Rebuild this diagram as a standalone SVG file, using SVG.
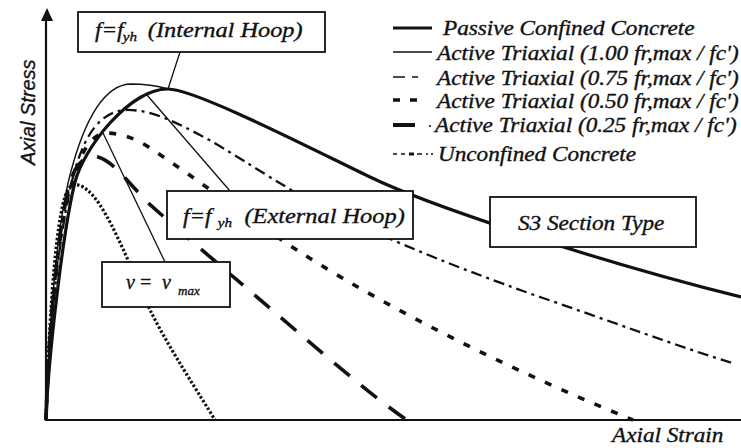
<svg xmlns="http://www.w3.org/2000/svg" width="741" height="448" viewBox="0 0 741 448">
<style>
.t{font-family:"Liberation Serif","Times New Roman",serif;font-style:italic;font-size:20px;fill:#111;stroke:#111;stroke-width:0.35}
.box{fill:#fff;stroke:#111;stroke-width:1.8}
.ld{fill:none;stroke:#111;stroke-width:1.3}
.c{fill:none;stroke:#111;stroke-linecap:butt;stroke-linejoin:round}
.pas{stroke-width:3.2}
.a100{stroke-width:1.4}
.a75{stroke-width:2.3;stroke-dasharray:11 5 3 5}
.a50{stroke-width:3.6;stroke-dasharray:7 11}
.a25{stroke-width:3.6;stroke-dasharray:20 15}
.unc{stroke-width:3.2;stroke-dasharray:2.5 2}
.ax{stroke:#111;stroke-width:2.2;fill:none}
</style>
<rect width="741" height="448" fill="#fff"/>

<g id="axes">
<line class="ax" x1="46" y1="420" x2="46" y2="16"/>
<polygon points="47,8 41,21 53,21" fill="#111"/>
<line class="ax" x1="45" y1="420" x2="741" y2="420"/>
<text class="t" style="font-family:'Liberation Sans',Arial,sans-serif" transform="translate(35,165) rotate(-90)">Axial Stress</text>
<text class="t" transform="translate(612,442) scale(1.16,1)">Axial Strain</text>
</g>

<g id="curves">
<path class="c unc" d="M46,420 C49,320 56,200 70,187 C78,180 90,190 100,205 C115,228 130,265 150,310 C170,350 200,395 215,420"/>
<path class="c a25" d="M46,420 C49,320 60,200 75,170 C82,158 90,155 98,157 C112,161 125,178 145,200 C180,232 255,295 300,334 C340,368 380,402 407,420"/>
<path class="c a50" d="M46,420 C48,340 57,235 70,190 C78,160 88,135 105,133 C120,133 135,138 150,148 C200,181 250,220 300,252 C400,316 525,376 633,420"/>
<path class="c a75" d="M46,420 C49,330 60,220 75,170 C85,135 100,112 125,110 C150,109 175,122 200,135 C225,148 260,172 300,195 C360,228 440,262 540,297 C610,321 680,347 732,363"/>
<path class="c a100" d="M46,420 C48,340 56,230 70,175 C77,148 95,86 130,84 C145,84 158,86 168,89"/>
<path class="c pas" d="M46,420 C48,360 63,230 75,182 C83,150 128,89 168,89 C195,89 310,148 370,177 C430,206 600,262 741,297"/>
</g>

<g id="legend">
<line class="c" stroke-width="3" x1="393" y1="28" x2="432" y2="28"/>
<text class="t" transform="translate(443,35) scale(1.16,1)">Passive Confined Concrete</text>
<line class="c" stroke-width="1.5" x1="393" y1="52" x2="432" y2="52"/>
<text class="t" transform="translate(437,60) scale(1.16,1)">Active Triaxial (1.00 fr,max / fc')</text>
<path class="c" stroke-width="1.6" d="M393,77 H405 M412,77 H418"/>
<text class="t" transform="translate(437,85) scale(1.16,1)">Active Triaxial (0.75 fr,max / fc')</text>
<path class="c" stroke-width="3.6" d="M393,100 H400 M410,100 H417"/>
<text class="t" transform="translate(437,108) scale(1.16,1)">Active Triaxial (0.50 fr,max / fc')</text>
<path class="c" stroke-width="4" d="M393,125 H415"/>
<circle cx="430" cy="126" r="1.1" fill="#111"/>
<text class="t" transform="translate(435,132) scale(1.16,1)">Active Triaxial (0.25 fr,max / fc')</text>
<path class="c" stroke-width="1.3" d="M393,154 H397 M401,154 H405 M417,154 H422 M426,154 H428 M431,154 H433"/>
<path class="c" stroke-width="3" d="M409,154 H414"/>
<text class="t" transform="translate(438,161) scale(1.16,1)">Unconfined Concrete</text>
</g>

<g id="connectors">
<line class="ld" x1="180" y1="52" x2="168" y2="89"/>
<line class="ld" x1="230" y1="191" x2="147" y2="95"/>
<line class="ld" x1="165" y1="262" x2="103" y2="133"/>
</g>

<g id="internal-hoop">
<rect class="box" x="78" y="12" width="247" height="40"/>
<text class="t" transform="translate(95,37) scale(1.16,1)">f=f<tspan x="24" dy="4" font-size="13">yh</tspan><tspan x="45.5" dy="-4" font-size="21">(Internal Hoop)</tspan></text>
</g>

<g id="external-hoop">
<rect class="box" x="167" y="191" width="246" height="48"/>
<text class="t" transform="translate(183,223) scale(1.16,1)">f=f<tspan x="30" dy="4" font-size="13">yh</tspan><tspan x="53" dy="-4" font-size="21">(External Hoop)</tspan></text>
</g>

<g id="nu-max">
<rect class="box" x="102" y="262" width="128" height="45"/>
<text class="t" font-size="22" x="126" y="289">ν<tspan x="140" font-style="normal">=</tspan><tspan x="162">ν</tspan><tspan x="178" dy="6" font-size="13">max</tspan></text>
</g>

<g id="s3-section">
<rect class="box" x="490" y="197" width="206" height="50"/>
<text class="t" transform="translate(518,230) scale(1.16,1)">S3 Section Type</text>
</g>
</svg>
